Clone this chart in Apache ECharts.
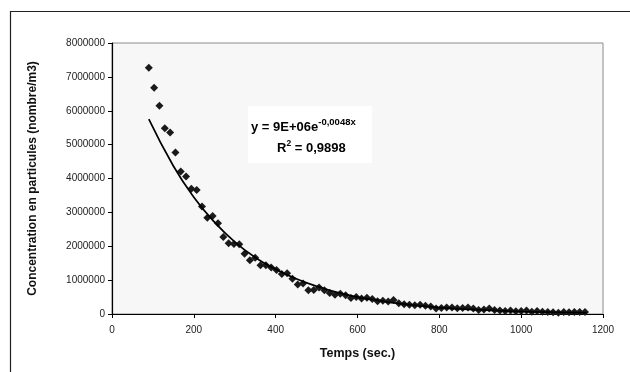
<!DOCTYPE html>
<html>
<head>
<meta charset="utf-8">
<script src="https://cdn.jsdelivr.net/npm/echarts@6/dist/echarts.min.js"></script>
<style>
html,body{margin:0;padding:0;background:#fff;}
#c{width:630px;height:372px;}
</style>
</head>
<body>
<div id="c"></div>
<script>
// Time (s) of each measurement
var timeSec = [90,103,116,129,142,155,168,181,194,207,220,233,246,259,272,285,298,311,324,337,350,363,376,389,402,415,428,441,454,467,480,493,506,
519,532,545,558,571,584,597,610,623,636,649,662,675,688,701,714,727,740,753,766,779,792,805,818,831,844,857,870,883,896,909,922,935,948,961,974,987,1000,1013,1026,1039,1052,1065,1078,1091,1104,1117,1130,1143,1156];
// Concentration (number/m3)
var concentration = [7270000,6680000,6150000,5480000,5360000,4770000,4210000,4060000,3700000,3660000,3170000,2840000,2890000,2680000,2270000,2090000,2070000,2060000,1780000,1590000,1660000,1440000,1440000,1370000,1300000,1180000,1200000,1040000,870000,900000,700000,710000,780000,
700000,620000,570000,600000,550000,470000,500000,460000,480000,440000,380000,390000,370000,410000,320000,290000,270000,260000,270000,240000,220000,160000,180000,190000,190000,170000,180000,190000,160000,120000,130000,160000,120000,100000,90000,100000,80000,90000,100000,70000,90000,70000,60000,50000,40000,60000,50000,60000,60000,60000];
// Exponential trend line
var trendX = [90,150,200,250,300,350,400,450,500,550,600,650,700,800,900,1000,1100,1160];
var trendY = [5750000,4370000,3450000,2720000,2130000,1670000,1320000,1040000,820000,640000,500000,400000,310000,190000,120000,74000,46000,34000];
var xTicks = {min:0,max:1200,interval:200};
var yTicks = {min:0,max:8000000,interval:1000000};

var pts = timeSec.map(function(t,i){return [t,concentration[i]];});
var trend = trendX.map(function(t,i){return [t,trendY[i]];});

var font = 'Liberation Sans, Arial, sans-serif';
var chart = echarts.init(document.getElementById('c'));
chart.setOption({
  animation:false,
  backgroundColor:'#ffffff',
  grid:{left:112,top:43,right:27,bottom:58,show:true,backgroundColor:'#f7f7f7',borderColor:'#8c8c8c',borderWidth:1},
  xAxis:{type:'value',min:xTicks.min,max:xTicks.max,interval:xTicks.interval,
    name:'Temps (sec.)',nameLocation:'middle',nameGap:33,
    nameTextStyle:{fontFamily:font,fontSize:12.5,fontWeight:'bold',color:'#111'},
    axisLine:{show:true,onZero:false,lineStyle:{color:'#000',width:1.2}},
    axisTick:{show:true,length:4,lineStyle:{color:'#000'}},
    axisLabel:{fontFamily:font,fontSize:10,color:'#222',margin:11,formatter:function(v){return String(v);}},
    splitLine:{show:false}},
  yAxis:{type:'value',min:yTicks.min,max:yTicks.max,interval:yTicks.interval,
    name:'Concentration en particules (nombre/m3)',nameLocation:'middle',nameGap:73,
    nameTextStyle:{fontFamily:font,fontSize:12,fontWeight:'bold',color:'#111'},
    axisLine:{show:true,onZero:false,lineStyle:{color:'#000',width:1.2}},
    axisTick:{show:true,length:4,lineStyle:{color:'#000'}},
    axisLabel:{fontFamily:font,fontSize:10,color:'#222',margin:7,formatter:function(v){return String(v);}},
    splitLine:{show:false}},
  series:[
    {type:'scatter',data:pts,symbol:'diamond',symbolSize:8,itemStyle:{color:'#1a1a1a',opacity:1},z:3},
    {type:'line',data:trend,smooth:true,symbol:'none',lineStyle:{color:'#000',width:1.7},z:4}
  ],
  graphic:[
    {type:'rect',shape:{x:10.5,y:11.5,width:700,height:500},style:{fill:null,stroke:'#222',lineWidth:1.2},z:0,silent:true},
    {type:'rect',shape:{x:248,y:106,width:124,height:57},style:{fill:'#ffffff'},z:10},
    {type:'text',left:251,top:117,z:11,style:{
      text:'{b|y = 9E+06e}{s|-0,0048x}',
      rich:{b:{fontFamily:font,fontSize:13,fontWeight:'bold',fill:'#000',lineHeight:18},
            s:{fontFamily:font,fontSize:9.5,fontWeight:'bold',fill:'#000',lineHeight:18,padding:[0,0,10,0]}}}},
    {type:'text',left:277,top:139,z:11,style:{
      text:'{b|R}{s|2}{b| = 0,9898}',
      rich:{b:{fontFamily:font,fontSize:13,fontWeight:'bold',fill:'#000',lineHeight:18},
            s:{fontFamily:font,fontSize:8.5,fontWeight:'bold',fill:'#000',lineHeight:18,padding:[0,0,10,0]}}}}
  ]
});
</script>
</body>
</html>
